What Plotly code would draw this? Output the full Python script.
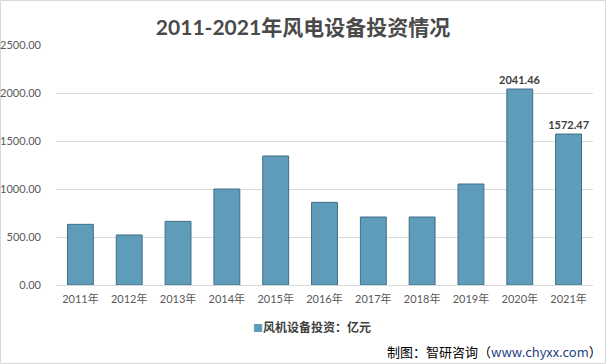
import plotly.graph_objects as go

categories = ["2011年", "2012年", "2013年", "2014年", "2015年", "2016年",
              "2017年", "2018年", "2019年", "2020年", "2021年"]
values = [632, 521, 663, 1000, 1344, 861, 708, 708, 1052, 2041.46, 1572.47]
shown_labels = ["", "", "", "", "", "", "", "", "", "2041.46", "1572.47"]
series_name = "风机设备投资：亿元"
title_text = "2011-2021年风电设备投资情况"
source_text = "制图：智研咨询（<span style='color:#1F3F7F'>www.chyxx.com</span>）"

FONT = "Lato, 'Noto Sans CJK SC', sans-serif"
BAR_COLOR = "#5E9CB9"
W, H = 606, 364
L, R, T, B = 56, 13, 45, 79
pw, ph = W - L - R, H - T - B

fig = go.Figure()
fig.add_trace(go.Bar(
    x=categories, y=values, name=series_name, showlegend=False,
    marker=dict(color=BAR_COLOR, line=dict(color="#3F6F87", width=1)),
    text=shown_labels, textposition="outside", constraintext="none",
    texttemplate="<b>%{text}</b>",
    textfont=dict(family=FONT, size=11, color="#404040"),
    cliponaxis=False, width=0.53,
))

fig.update_layout(
    width=W, height=H,
    margin=dict(l=L, r=R, t=T, b=B, autoexpand=False),
    paper_bgcolor="white", plot_bgcolor="white",
    font=dict(family=FONT, size=11, color="#595959"),
    title=dict(text="<b>" + title_text + "</b>", x=0.5, xanchor="center",
               y=1 - 28 / H, yanchor="middle",
               font=dict(family=FONT, size=21, color="#4A4A4A")),
    showlegend=False,
    bargap=0.47,
    xaxis=dict(showgrid=False, showline=False, ticks="", ticklabelstandoff=6,
               tickfont=dict(size=11, color="#595959")),
    yaxis=dict(range=[0, 2500], dtick=500, tickformat=".2f",
               showgrid=True, gridcolor="#D9D9D9", gridwidth=1,
               zeroline=True, zerolinecolor="#D9D9D9", zerolinewidth=1,
               showline=False, ticks="", ticklabelstandoff=14,
               tickfont=dict(size=11, color="#595959")),
)

# legend (compact square marker + bold label)
fig.add_annotation(
    text="<span style='color:" + BAR_COLOR + ";font-size:10px'>■</span><b>" + series_name + "</b>",
    xref="paper", yref="paper", x=(312 - L) / pw, y=(285 - 327) / ph,
    xanchor="center", yanchor="middle", showarrow=False,
    font=dict(family=FONT, size=12, color="#404040"))

fig.add_annotation(text=source_text, xref="paper", yref="paper",
                   x=(604 - L) / pw, y=(285 - 351) / ph,
                   xanchor="right", yanchor="middle", showarrow=False,
                   font=dict(family="'Noto Sans CJK SC', sans-serif", size=13, color="#000000"))

fig.add_shape(type="rect", xref="paper", yref="paper",
              x0=(0.5 - L) / pw, x1=(W - 0.5 - L) / pw,
              y0=(285 - (H - 0.5)) / ph, y1=(285 - 0.5) / ph,
              line=dict(color="#D9D9D9", width=1), fillcolor="rgba(0,0,0,0)", layer="below")

fig.write_html("out.html", config={"displayModeBar": False},
               post_script="document.body.style.margin='0';")
